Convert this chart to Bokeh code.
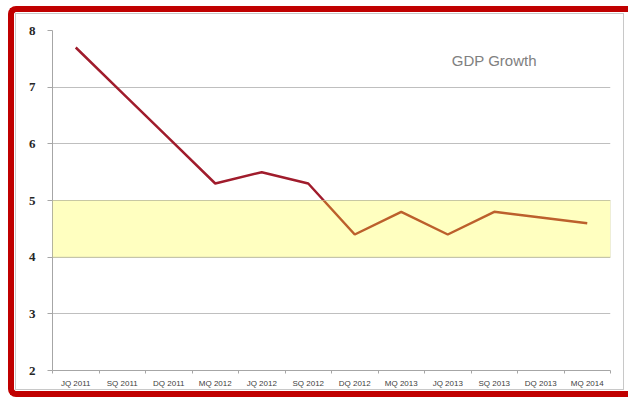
from bokeh.plotting import figure
from bokeh.models import BoxAnnotation, Label, FixedTicker, Range1d
from bokeh.layouts import column
from bokeh.embed import file_html
from bokeh.resources import INLINE

quarters = ["JQ 2011", "SQ 2011", "DQ 2011", "MQ 2012", "JQ 2012", "SQ 2012",
            "DQ 2012", "MQ 2013", "JQ 2013", "SQ 2013", "DQ 2013", "MQ 2014"]
gdp_growth = [7.7, 6.9, 6.1, 5.3, 5.5, 5.3, 4.4, 4.8, 4.4, 4.8, 4.7, 4.6]
y_ticks = [2, 3, 4, 5, 6, 7, 8]
band_low, band_high = 4, 5
title_text = "GDP Growth"

n = len(quarters)
xs = [i + 0.5 for i in range(n)]

p = figure(width=609, height=377, output_backend="svg", toolbar_location=None,
           x_range=Range1d(0, n), y_range=Range1d(2, 8),
           min_border_left=36, min_border_right=15, min_border_top=16, min_border_bottom=21,
           styles={"border": "1px solid #C8C8C8"})
p.background_fill_color = "white"
p.border_fill_color = "white"
p.outline_line_color = None

# x axis
p.xaxis.ticker = FixedTicker(ticks=xs, minor_ticks=list(range(n + 1)))
p.xaxis.major_label_overrides = {x: q for x, q in zip(xs, quarters)}
p.xaxis.major_tick_out = 0
p.xaxis.major_tick_in = 0
p.xaxis.minor_tick_out = 3
p.xaxis.minor_tick_in = 0
p.xaxis.minor_tick_line_color = "#A6A6A6"
p.xaxis.axis_line_color = "#A6A6A6"
p.xaxis.major_label_text_font = "Liberation Sans"
p.xaxis.major_label_text_font_size = "8px"
p.xaxis.major_label_text_color = "#404040"
p.xaxis.major_label_standoff = 5
p.xgrid.grid_line_color = None

# y axis
p.yaxis.ticker = FixedTicker(ticks=y_ticks)
p.yaxis.major_tick_out = 5
p.yaxis.major_tick_in = 0
p.yaxis.minor_tick_line_color = None
p.yaxis.major_tick_line_color = "#A6A6A6"
p.yaxis.axis_line_color = "#A6A6A6"
p.yaxis.major_label_text_font = "Liberation Serif"
p.yaxis.major_label_text_font_style = "bold"
p.yaxis.major_label_text_font_size = "13px"
p.yaxis.major_label_text_color = "#262626"
p.yaxis.major_label_standoff = 12
p.ygrid.grid_line_color = "#BFBFBF"
p.ygrid.grid_line_width = 1

p.line(xs, gdp_growth, line_color="#A01C2C", line_width=2.5)

band = BoxAnnotation(bottom=band_low, top=band_high, fill_color="#FFFF2D", fill_alpha=0.3,
                     line_color="#C8C8A0", line_alpha=0.6, line_width=1, level="overlay")
p.add_layout(band)

p.add_layout(Label(x=9.5, y=7.47, text=title_text, text_align="center", text_baseline="middle",
                   text_font="Liberation Sans", text_font_size="15px", text_color="#808080"))

layout = column(p, styles={
    "margin-left": "8px", "margin-top": "6px",
    "border": "6px solid #C00000",
    "border-right-color": "white",
    "border-radius": "8px",
    "border-top-right-radius": "0px",
    "border-bottom-right-radius": "0px",
    "padding": "1px 8px 1px 1px", "background-color": "white",
})

open("out.html", "w").write(file_html(layout, INLINE))
